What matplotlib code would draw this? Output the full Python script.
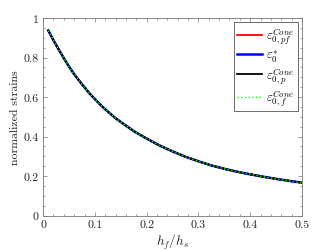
import numpy as np
import matplotlib
matplotlib.use("Agg")
import matplotlib.pyplot as plt
from matplotlib.ticker import MultipleLocator

plt.rcParams["font.family"] = "serif"
plt.rcParams["font.serif"] = ["cmr10", "DejaVu Serif"]
plt.rcParams["mathtext.fontset"] = "cm"
plt.rcParams["axes.formatter.use_mathtext"] = True

# thickness ratio h_f/h_s and normalized strains
hf_hs = [0.01, 0.02, 0.03, 0.04, 0.05, 0.06, 0.075, 0.09, 0.1, 0.115, 0.125, 0.14,
         0.15, 0.175, 0.2, 0.225, 0.25, 0.275, 0.3, 0.325, 0.35, 0.375, 0.4,
         0.425, 0.45, 0.475, 0.5]
eps_cone = [0.937, 0.888, 0.842, 0.797, 0.755, 0.716, 0.665, 0.618, 0.59, 0.55,
            0.527, 0.493, 0.474, 0.428, 0.39, 0.355, 0.325, 0.298, 0.275, 0.254,
            0.237, 0.222, 0.209, 0.197, 0.186, 0.176, 0.167]
eps_pf = eps_cone
eps_star = eps_cone
eps_p = eps_cone
eps_f = eps_cone

xticks = [0, 0.1, 0.2, 0.3, 0.4, 0.5]
xticklabels = ["0", "0.1", "0.2", "0.3", "0.4", "0.5"]
yticks = [0, 0.2, 0.4, 0.6, 0.8, 1]
yticklabels = ["0", "0.2", "0.4", "0.6", "0.8", "1"]

fig = plt.figure(figsize=(3.34, 2.51), dpi=100)
ax = fig.add_axes([0.129, 0.137, 0.775, 0.787])

ax.plot(hf_hs, eps_pf, color="red", lw=1.3, label=r"$\varepsilon_{0,pf}^{Cone}$")
ax.plot(hf_hs, eps_star, color="blue", lw=1.8, label=r"$\varepsilon_{0}^{*}$")
ax.plot(hf_hs, eps_p, color="black", lw=1.3, label=r"$\varepsilon_{0,p}^{Cone}$")
ax.plot(hf_hs, eps_f, color="#00ff00", lw=1.0, ls=":", label=r"$\varepsilon_{0,f}^{Cone}$")

ax.set_xlim(0, 0.5)
ax.set_ylim(0, 1)
ax.set_xticks(xticks)
ax.set_xticklabels(xticklabels)
ax.set_yticks(yticks)
ax.set_yticklabels(yticklabels)
ax.xaxis.set_minor_locator(MultipleLocator(0.02))
ax.yaxis.set_minor_locator(MultipleLocator(0.05))

for s in ax.spines.values():
    s.set_color("#777777")
    s.set_linewidth(0.6)
ax.tick_params(which="both", direction="in", top=True, right=True,
               color="#777777", width=0.5, labelsize=8.5, labelcolor="#222222", pad=3)
ax.tick_params(which="major", length=3)
ax.tick_params(which="minor", length=1.5)

ax.set_xlabel(r"$h_f/h_s$", fontsize=9.5, color="#222222", labelpad=2)
ax.set_ylabel("normalized strains", fontsize=8.5, color="#222222", labelpad=3)

leg = ax.legend(loc="upper right", fontsize=9, fancybox=False, framealpha=1,
                edgecolor="#555555", handlelength=2.0, handletextpad=0.3,
                labelspacing=0.1, borderpad=0.25, borderaxespad=0.35)
leg.get_frame().set_linewidth(0.6)

fig.savefig("out.png", dpi=100)
